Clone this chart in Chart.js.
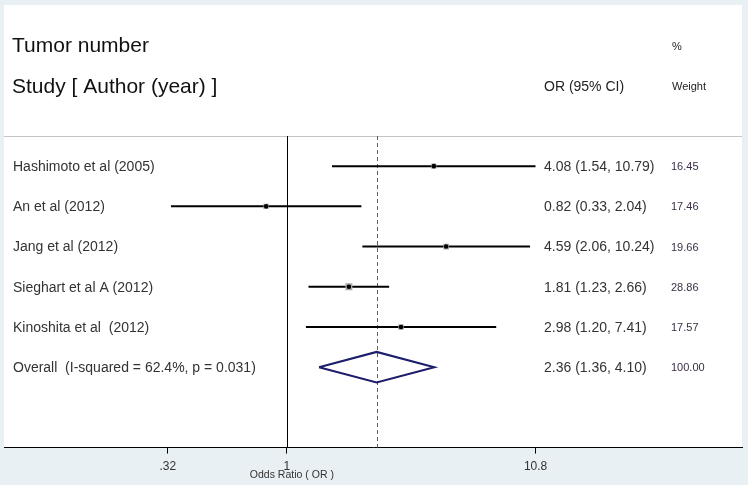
<!DOCTYPE html>
<html>
<head>
<meta charset="utf-8">
<script src="https://cdn.jsdelivr.net/npm/chart.js@4.4.1/dist/chart.umd.min.js"></script>
<style>
  html, body { margin: 0; padding: 0; background: #e9f0f3; }
  #contenedor { width: 748px; height: 485px; position: relative; }
</style>
</head>
<body>
<div id="contenedor"><canvas id="myChart"></canvas></div>
<script>
// Datos del forest plot
const estudios = ['Hashimoto et al (2005)', 'An et al (2012)', 'Jang et al (2012)', 'Sieghart et al A (2012)', 'Kinoshita et al  (2012)'];
const oddsRatios = [4.08, 0.82, 4.59, 1.81, 2.98];
const ciInferior = [1.54, 0.33, 2.06, 1.23, 1.20];
const ciSuperior = [10.79, 2.04, 10.24, 2.66, 7.41];
const pesos = [16.45, 17.46, 19.66, 28.86, 17.57];

const etiquetaGlobal = 'Overall  (I-squared = 62.4%, p = 0.031)';
const valoresGlobal = [2.36, 1.36, 4.10]; // OR, inferior, superior
const pesoGlobal = 100.00;

const tickValores = [0.32, 1, 10.8];
const tickEtiquetas = ['.32', '1', '10.8'];

const FUENTE = "'Liberation Sans', Arial, sans-serif";
const filaGlobal = estudios.length;

// Lineas de intervalo, una por estudio
const datasetsCI = estudios.map((nombre, i) => ({
    label: nombre,
    data: [{ x: ciInferior[i], y: i }, { x: ciSuperior[i], y: i }],
    showLine: true,
    borderColor: '#000',
    borderWidth: 2,
    pointRadius: 0,
    order: 3
}));

const datasetPesos = {
    label: 'pesos',
    data: oddsRatios.map((v, i) => ({ x: v, y: i })),
    pointStyle: 'rect',
    pointRadius: (c) => (1.3 * Math.sqrt(pesos[c.dataIndex] || 0)) / Math.SQRT2,
    backgroundColor: '#a9a9a9',
    borderWidth: 0,
    order: 2
};

const datasetPuntos = {
    label: 'OR',
    data: oddsRatios.map((v, i) => ({ x: v, y: i })),
    pointStyle: 'circle',
    pointRadius: 2.3,
    backgroundColor: '#000',
    borderWidth: 0,
    order: 1
};

const datasetDiamante = {
    label: 'overall',
    data: [
        { x: valoresGlobal[1], y: filaGlobal },
        { x: valoresGlobal[0], y: filaGlobal - 0.38 },
        { x: valoresGlobal[2], y: filaGlobal },
        { x: valoresGlobal[0], y: filaGlobal + 0.38 },
        { x: valoresGlobal[1], y: filaGlobal }
    ],
    showLine: true,
    borderColor: '#1d1d6b',
    borderWidth: 2,
    pointRadius: 0,
    tension: 0,
    order: 0
};

const fondoPlugin = {
    id: 'fondo',
    beforeDraw: (chart) => {
        const { ctx, chartArea, width, height } = chart;
        ctx.save();
        ctx.fillStyle = '#e9f0f3';
        ctx.fillRect(0, 0, width, height);
        ctx.fillStyle = '#ffffff';
        ctx.fillRect(4, 5, 738, chartArea.bottom - 5);
        ctx.restore();
    },
    beforeDatasetsDraw: (chart) => {
        const { ctx, chartArea } = chart;
        const xs = chart.scales.x;
        ctx.save();
        // separador del encabezado
        ctx.strokeStyle = '#c4c4c4';
        ctx.lineWidth = 1;
        ctx.beginPath();
        ctx.moveTo(4, chartArea.top + 0.5);
        ctx.lineTo(742, chartArea.top + 0.5);
        ctx.stroke();
        // linea de no efecto
        const x1 = Math.round(xs.getPixelForValue(1)) + 0.5;
        ctx.strokeStyle = '#000';
        ctx.beginPath();
        ctx.moveTo(x1, chartArea.top);
        ctx.lineTo(x1, chartArea.bottom);
        ctx.stroke();
        // linea del efecto global
        const xg = Math.round(xs.getPixelForValue(valoresGlobal[0])) + 0.5;
        ctx.strokeStyle = '#a3414f';
        ctx.setLineDash([4, 3]);
        ctx.beginPath();
        ctx.moveTo(xg, chartArea.top);
        ctx.lineTo(xg, chartArea.bottom);
        ctx.stroke();
        ctx.restore();
    },
    afterDraw: (chart) => {
        const { ctx } = chart;
        const ys = chart.scales.y;
        const xs = chart.scales.x;
        const filaY = (v) => ys.getPixelForValue(v) + 1;
        ctx.save();
        ctx.textBaseline = 'middle';
        ctx.textAlign = 'left';

        // encabezados
        ctx.fillStyle = '#111';
        ctx.font = '21px ' + FUENTE;
        ctx.fillText('Tumor number', 12, filaY(-3));
        ctx.fillText('Study [ Author (year) ]', 12, filaY(-2));
        ctx.fillStyle = '#222';
        ctx.font = '14px ' + FUENTE;
        ctx.fillText('OR (95% CI)', 544, filaY(-2));
        ctx.font = '11px ' + FUENTE;
        ctx.fillText('%', 672, filaY(-3));
        ctx.fillText('Weight', 672, filaY(-2));

        // filas de estudios
        const filas = estudios.map((nombre, i) => [nombre, oddsRatios[i], ciInferior[i], ciSuperior[i], pesos[i]]);
        filas.push([etiquetaGlobal, valoresGlobal[0], valoresGlobal[1], valoresGlobal[2], pesoGlobal]);
        filas.forEach((f, i) => {
            const y = filaY(i);
            ctx.fillStyle = '#333';
            ctx.font = '14px ' + FUENTE;
            ctx.fillText(f[0], 13, y);
            ctx.fillText(`${f[1].toFixed(2)} (${f[2].toFixed(2)}, ${f[3].toFixed(2)})`, 544, y);
            ctx.font = '11px ' + FUENTE;
            ctx.fillStyle = '#3a2f45';
            ctx.fillText(f[4].toFixed(2), 671, y);
        });

        // titulo del eje
        ctx.fillStyle = '#333';
        ctx.font = "10.5px 'Liberation Sans Narrow', 'Arial Narrow', " + FUENTE;
        ctx.textAlign = 'center';
        ctx.fillText('Odds Ratio ( OR )', xs.getPixelForValue(1) + 5, 475);
        ctx.restore();
    }
};

const ctx = document.getElementById('myChart').getContext('2d');
const myChart = new Chart(ctx, {
    type: 'scatter',
    data: {
        datasets: [datasetDiamante, datasetPuntos, datasetPesos, ...datasetsCI]
    },
    options: {
        responsive: true,
        maintainAspectRatio: false,
        animation: false,
        layout: {
            padding: { top: 136, left: 4, right: 6, bottom: 5 }
        },
        plugins: {
            legend: { display: false },
            tooltip: { enabled: false }
        },
        scales: {
            x: {
                type: 'logarithmic',
                min: 0.0674,
                max: 77.8,
                afterBuildTicks: (scale) => {
                    scale.ticks = tickValores.map(v => ({ value: v }));
                },
                ticks: {
                    autoSkip: false,
                    maxRotation: 0,
                    padding: 6,
                    color: '#333',
                    font: { family: FUENTE, size: 12 },
                    callback: (value) => {
                        const idx = tickValores.indexOf(value);
                        return idx >= 0 ? tickEtiquetas[idx] : '';
                    }
                },
                grid: {
                    drawOnChartArea: false,
                    drawTicks: true,
                    tickLength: 6,
                    color: '#000'
                },
                border: { display: true, color: '#000', width: 1 }
            },
            y: {
                type: 'linear',
                display: false,
                reverse: true,
                min: -0.75,
                max: 7
            }
        }
    },
    plugins: [fondoPlugin]
});
</script>
</body>
</html>
